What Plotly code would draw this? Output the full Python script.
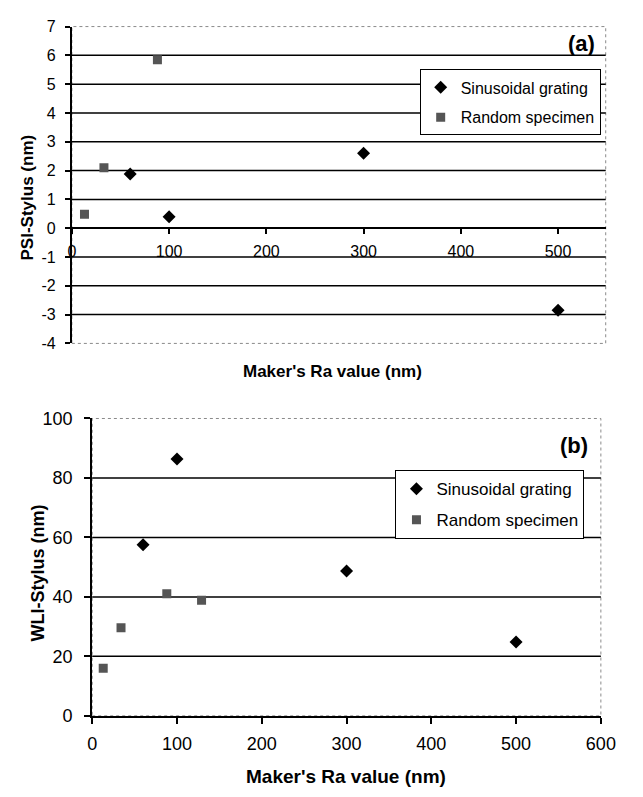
import plotly.graph_objects as go

W, H = 643, 797

# ---- data ----
sin_x = [60, 100, 300, 500]
psi_sin = [1.88, 0.40, 2.60, -2.85]
wli_sin_x = [100, 60, 300, 500]
wli_sin = [86.4, 57.5, 48.7, 24.8]

rand_x_a = [13, 33, 88]
psi_rand = [0.48, 2.10, 5.85]
rand_x_b = [13, 34, 88, 129]
wli_rand = [16.0, 29.6, 41.1, 38.9]

x_ticks_a = [0, 100, 200, 300, 400, 500]
y_ticks_a = [-4, -3, -2, -1, 0, 1, 2, 3, 4, 5, 6, 7]
grid_a = [-3, -2, -1, 0, 1, 2, 3, 4, 5, 6]
x_ticks_b = [0, 100, 200, 300, 400, 500, 600]
y_ticks_b = [0, 20, 40, 60, 80, 100]
grid_b = [20, 40, 60, 80]

FONT = "Liberation Sans, Arial, sans-serif"


def px(x):
    return x / W


def py(y):
    return 1 - y / H


# plot area pixel boxes
A_L, A_R, A_T, A_B = 69, 620, 17, 342
B_L, B_R, B_T, B_B = 90, 615, 419, 724
ya_min, ya_max = -4, 7
ya_dom = [py(A_B), py(A_T)]
x_a_pos = ya_dom[0] + (ya_dom[1] - ya_dom[0]) * (0 - ya_min) / (ya_max - ya_min)

fig = go.Figure()

fig.add_trace(go.Scatter(x=sin_x, y=psi_sin, mode="markers", name="Sinusoidal grating",
                         marker=dict(symbol="diamond", size=10, color="black"),
                         xaxis="x", yaxis="y", legend="legend", legendgroup="a1"))
fig.add_trace(go.Scatter(x=rand_x_a, y=psi_rand, mode="markers", name="Random specimen",
                         marker=dict(symbol="square", size=9, color="#555555"),
                         xaxis="x", yaxis="y", legend="legend", legendgroup="a2"))
fig.add_trace(go.Scatter(x=wli_sin_x, y=wli_sin, mode="markers", name="Sinusoidal grating",
                         marker=dict(symbol="diamond", size=10, color="black"),
                         xaxis="x2", yaxis="y2", legend="legend2", legendgroup="b1"))
fig.add_trace(go.Scatter(x=rand_x_b, y=wli_rand, mode="markers", name="Random specimen",
                         marker=dict(symbol="square", size=9, color="#555555"),
                         xaxis="x2", yaxis="y2", legend="legend2", legendgroup="b2"))

shapes = []
for xr, yr in (("x domain", "y domain"), ("x2 domain", "y2 domain")):
    shapes.append(dict(type="rect", xref=xr, yref=yr, x0=0, x1=1, y0=0, y1=1,
                       line=dict(color="#8a8a8a", width=1, dash="dot"), layer="below"))
for v in grid_a:
    shapes.append(dict(type="line", xref="x domain", yref="y", x0=0, x1=1, y0=v, y1=v,
                       line=dict(color="black", width=1.5), layer="below"))
for v in grid_b:
    shapes.append(dict(type="line", xref="x2 domain", yref="y2", x0=0, x1=1, y0=v, y1=v,
                       line=dict(color="black", width=1.5), layer="below"))

axis_common = dict(showline=True, linecolor="black", linewidth=2, ticks="outside",
                   tickcolor="black", tickwidth=1.5, showgrid=False, zeroline=False,
                   color="black", layer="above traces")


def labels(vals):
    return [str(v).replace("\u2212", "-") for v in vals]


fig.update_layout(
    width=W, height=H,
    margin=dict(l=0, r=0, t=0, b=0),
    paper_bgcolor="white", plot_bgcolor="white",
    font=dict(family=FONT, color="black"),
    shapes=shapes,
    xaxis=dict(domain=[px(A_L), px(A_R)], range=[0, 549], tickmode="array", tickvals=x_ticks_a,
               ticktext=labels(x_ticks_a),
               anchor="free", position=x_a_pos, ticklen=5, tickfont=dict(size=16),
               ticklabelstandoff=4, **axis_common),
    yaxis=dict(domain=ya_dom, range=[ya_min, ya_max], tickmode="array", tickvals=y_ticks_a,
               ticktext=labels(y_ticks_a),
               anchor="x", ticklen=5, tickfont=dict(size=16), ticklabelstandoff=6, **axis_common),
    xaxis2=dict(domain=[px(B_L), px(B_R)], range=[0, 600], tickmode="array", tickvals=x_ticks_b,
                ticktext=labels(x_ticks_b),
                anchor="y2", ticklen=6, tickfont=dict(size=18), ticklabelstandoff=5, **axis_common),
    yaxis2=dict(domain=[py(B_B), py(B_T)], range=[0, 100], tickmode="array", tickvals=y_ticks_b,
                ticktext=labels(y_ticks_b),
                anchor="x2", ticklen=6, tickfont=dict(size=18), ticklabelstandoff=8, **axis_common),
    legend=dict(x=px(428), y=py(61), xanchor="left", yanchor="top", bgcolor="white",
                bordercolor="black", borderwidth=1, font=dict(size=16, family=FONT),
                traceorder="grouped", tracegroupgap=6, itemwidth=30),
    legend2=dict(x=px(403), y=py(472), xanchor="left", yanchor="top", bgcolor="white",
                 bordercolor="black", borderwidth=1, font=dict(size=17, family=FONT),
                 traceorder="grouped", tracegroupgap=6, itemwidth=30),
    showlegend=True,
)

annotations = [
    dict(text="<b>(a)</b>", x=px(595), y=py(34), font=dict(size=22)),
    dict(text="<b>(b)</b>", x=px(587), y=py(447), font=dict(size=22)),
    dict(text="<b>Maker's Ra value (nm)</b>", x=px(338), y=py(371), font=dict(size=17)),
    dict(text="<b>Maker's Ra value (nm)</b>", x=px(352), y=py(786), font=dict(size=19)),
    dict(text="<b>PSI-Stylus (nm)</b>", x=px(23), y=py(192), textangle=-90, font=dict(size=17)),
    dict(text="<b>WLI-Stylus (nm)</b>", x=px(34), y=py(577), textangle=-90, font=dict(size=18)),
]
for a in annotations:
    a.update(xref="paper", yref="paper", showarrow=False, xanchor="center", yanchor="middle")
    a["font"].update(family=FONT, color="black")
fig.update_layout(annotations=annotations)

fig.write_html("out.html", config={"displayModeBar": False},
               post_script="document.body.style.margin='0';document.body.style.overflow='hidden';")
